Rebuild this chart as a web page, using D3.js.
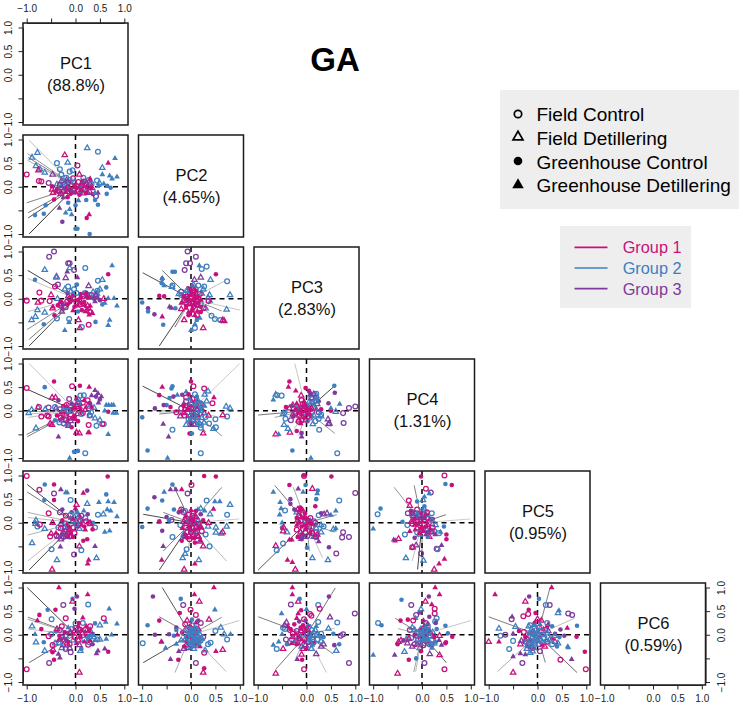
<!DOCTYPE html>
<html><head><meta charset="utf-8">
<script src="https://cdn.jsdelivr.net/npm/d3@7"></script>
<style>html,body{margin:0;padding:0;background:#fff}svg{display:block}text{font-family:"Liberation Sans",Arial,sans-serif}</style>
</head><body><div id="c"></div>
<script>
const pcNames=["PC1","PC2","PC3","PC4","PC5","PC6"];
const pcShare=["(88.8%)","(4.65%)","(2.83%)","(1.31%)","(0.95%)","(0.59%)"];
const tickValues=[-1,-0.5,0,0.5,1];
const tickLabels=["\u22121.0","","0.0","0.5","1.0"];
const shapeLegend=[["o","Field Control"],["t","Field Detillering"],["O","Greenhouse Control"],["T","Greenhouse Detillering"]];
const groupLegend=["Group 1","Group 2","Group 3"];

// points: [group+shape, x, y]  m/b/p group; o/t open, O/T filled
const pc2_pc1=[["bt",-.78,.72],["bt",-.89,.62],["bt",-.81,.44],["bt",-.73,.37],["bt",-.63,.3],["bt",.24,.82],["bt",-.16,.51],["bt",.55,.4],["bo",.46,.74],["bo",-.38,.5],["bo",-.32,.37],["bo",-.12,.32],["bo",-.06,.35],["bo",-.29,.26],["bo",-.19,.19],["bo",.16,.19],["bo",.27,.14],["bo",.44,.13],["bt",.49,.08],["bt",-.38,.05],
["mt",-.22,.67],["mt",-.76,.35],["mt",.08,.26],["mo",-1,.26],["mo",-.75,.12],["mo",-.7,.11],["mo",.04,.45],["mo",-.05,.18],["mo",.17,.11],["mo",-.08,.03],["mt",.3,.07],["mt",-.12,-.04],["mo",.05,-.09],["mo",.2,-.05],["mt",.29,-.1],["mt",-.46,-.13],["mt",-.48,-.06],["mO",-.44,-.27],["mO",-.48,.01],["mO",-.38,-.05],["mT",.67,.5],["mT",.28,-.59],["mO",.23,-.66],["mO",.0,-.12],["mO",.08,-.17],["mT",.14,-.08],["mT",.3,.17],["mO",-.16,-.22],["mO",.36,-.16],
["pO",-.27,-.74],["pt",-.47,.26],["po",-.55,.08],["pt",-.29,.12],["po",-.22,.05],["pt",-.18,.14],["po",.29,.1],["pt",-.36,-.08],["pT",-.33,-.45],["pT",-.25,-.23],["pO",.09,.02],["pO",.14,.11],["pT",.46,-.13],["po",.42,-.2],["pt",.25,-.13],["pO",-.12,-.07],
["bT",.81,.6],["bT",.85,.21],["bT",.7,.23],["bT",.75,.17],["bT",.55,.26],["bT",.58,.06],["bO",.65,.02],["bO",.72,-.02],["bO",.64,-.15],["bT",.48,.03],["bO",-.83,-.6],["bO",-.65,-.57],["bO",-.61,-.39],["bO",.04,-.89],["bO",.0,-.89],["bO",.29,-1],["bO",.4,-.28],["bO",.46,-.38],["bO",0,-.39],["bO",-.15,-.34],["bO",.22,-.28],["bT",-.2,-.55],["bT",-.12,-.48],["bT",-.08,-.59],["bT",.06,-.29],["bT",.4,-.13],["bO",.12,-.12],["bo",.18,-.02],["bt",-.2,.02]];
const core_pc2_pc1=[["bo",-.25,.1],["bt",-.3,-.02],["bo",-.12,.14],["bt",-.02,.1],["po",-.15,.1],["pt",-.25,-.08],["po",-.32,.03],["pT",-.2,-.03],["pO",-.05,-.12],["bt",.1,.03],["po",.22,.06],["pt",.34,-.03],["bo",.33,.06],["mo",-.33,-.1],["mt",-.3,-.15],["mT",-.2,-.12],["mO",-.1,-.15],["mO",.02,-.03],["mT",.1,-.08],["mo",.12,.01],["mt",.2,.02],["mT",.24,-.02],["mO",.32,-.02],["mo",-.15,-.02],["mO",-.02,.03],["mT",-.4,-.1],["mo",.06,.1],["mt",.15,-.14],["mO",.22,-.13]];
const load_pc2_pc1=[[-.95,.98,190],[-.98,.7,150],[-.97,.62,130],[-.98,.56,170],[-1,-.34,130],[-.97,-.55,120],[-.97,-.66,80],[-.95,-1,50]];

const pc3_pc1=[["po",-.54,.89],["po",-.44,1],["po",-.15,.75],["po",-.12,.75],["po",-.03,.61],["po",-.36,.3],["pt",-.39,.47],["pt",-.2,.44],["pT",.04,.45],["pT",-.17,.57],["pO",-.16,.12],["pt",.27,.27],["pT",.45,.03],["pO",.5,-.03],["pT",.4,-.06],["pO",-.27,-.2],["pt",-.28,-.27],["po",-.3,-.15],["pO",.32,.03],
["bo",.2,.65],["bo",.46,.38],["bo",-.15,.26],["bo",-.03,.2],["bo",.2,.12],["bo",.45,.17],["bo",-.38,-.42],["bo",-.13,-.43],["bo",.13,-.6],["bo",.29,.08],["bt",-.63,.61],["bt",-.39,.45],["bt",.55,.4],["bt",-.9,-.45],["bt",-.82,-.38],["bt",-.78,-.24],["bt",-.63,-.29],["bt",-.12,.65],["bt",-.22,.2],["bt",.5,.2],["bt",.15,.08],["bt",.44,.11],["bt",-.37,.0],
["bT",.75,.7],["bT",.85,-.15],["bT",.79,.01],["bT",.67,.01],["bT",.7,-.45],["bT",.67,-.56],["bT",-.22,-.67],["bT",-.13,-.5],["bT",.25,.1],["bT",.6,-.09],["bO",-.83,.4],["bO",-.65,-.54],["bO",.41,-.49],["bO",.63,.24],["bO",.03,.3],["bO",.05,-.27],["bO",.55,-.12],
["mo",-1,-.04],["mo",-.74,.13],["mo",-.7,-.04],["mo",-.53,-.05],["mo",.15,.05],["mo",.33,.08],["mo",.09,-.12],["mo",-.17,-.06],["mo",.27,-.55],["mo",-.42,.26],["mt",-.77,-.08],["mt",-.5,.08],["mt",.09,-.62],["mt",.06,-.45],["mt",-.47,-.2],["mt",-.03,.01],["mt",.58,.0],["mt",.3,-.27],
["mO",.67,.52],["mO",-.43,-.35],["mO",-.36,-.14],["mO",-.05,.09],["mO",-.11,-.07],["mO",.05,-.03],["mO",.12,-.1],["mO",.24,.03],["mO",.1,.1],["mT",-.46,-.17],["mT",.28,-.34],["mT",.35,-.31],["mT",.24,-.22],["mT",-.08,-.03],["mT",.05,-.15],["mT",.19,-.14],["mO",.13,-.24]];
const core_pc3_pc1=[["bt",-.1,.15],["bo",.02,.12],["bt",.36,.14],["bt",.4,.07],["pO",.38,.0],["pt",.42,.08],["pT",-.25,-.12],["po",-.2,-.18],["pt",-.15,.05],["mO",-.02,-.17],["mT",.2,-.27],["mt",.25,-.15],["mo",.02,-.08],["mO",-.17,-.12],["mT",-.05,-.25],["mo",-.12,.0],["mt",.08,-.02],["mO",.18,-.07],["mT",.3,-.15],["mo",.3,-.28],["mO",-.3,-.06],["mt",-.33,-.12],["mT",.12,.03],["mO",.22,.12]];
const load_pc3_pc1=[[-.98,.6,70],[-.98,.43,195],[-.97,-.27,190],[-.99,-.65,140],[-.95,-.86,125],[-.95,-1,70]];

const pc3_pc2=[["po",-.07,1],["po",.1,.89],["po",-.1,.75],["po",-.02,.75],["po",-.13,.61],["pt",.07,.4],["pt",.2,.45],["pt",.03,.2],["pT",-.59,.43],["pT",-.44,-.17],["pT",-.4,-.2],["pO",-.75,-.33],["pO",-.88,-.2],["pO",-.13,.02],["pO",.08,-.12],["pT",.15,.05],["po",-.2,.15],
["bO",-.38,.57],["bO",-.33,.57],["bO",-1,-.08],["bO",-.88,-.27],["bO",-.57,-.55],["bO",-.59,.42],["bO",-.6,.33],["bO",-.32,-.2],["bO",.12,-.45],["bT",.17,.7],["bT",-.55,.28],["bT",0,-.67],["bT",.08,-.54],["bT",.18,-.41],["bT",.4,-.05],["bt",.8,.08],["bt",.73,-.23],["bt",.4,.4],["bt",-.39,.25],["bt",.25,.2],["bt",.35,.02],["bt",-.25,.1],["bt",-.14,-.05],["bt",.3,-.2],["bt",.38,.08],
["bo",.74,.37],["bo",.32,.68],["bo",.22,.63],["bo",.08,-.62],["bo",.49,-.43],["bo",.6,-.45],["bo",.42,-.36],["bo",.27,.26],["bo",.1,.2],["bo",.2,-.1],["bo",-.38,.28],["bo",-.2,.08],["bt",-.12,.12],["bt",.22,.11],
["mO",-.65,.06],["mO",-.55,.05],["mO",.51,.52],["mO",-.06,.22],["mO",.07,.1],["mO",-.1,-.15],["mO",.03,-.25],["mO",.2,-.17],["mO",.12,.03],["mO",-.03,-.04],["mT",-.59,-.38],["mT",-.1,-.2],["mT",.08,-.07],["mT",.2,-.02],["mT",-.02,.07],["mT",.13,-.26],["mT",-.2,-.09],
["mt",-.14,-.45],["mt",.25,-.62],["mt",.65,-.45],["mt",.68,-.47],["mt",.04,.24],["mt",-.02,-.12],["mt",.14,-.03],["mo",.18,.1],["mo",-.08,.04],["mo",.06,-.16],["mo",-.14,-.03],["mo",.36,-.05],["mo",-.02,.13],["mo",.12,-.35],["mo",.26,-.2]];
const core_pc3_pc2=[["bt",.05,.3],["bo",.15,.28],["bt",-.08,.17],["pT",-.05,-.05],["pt",.15,-.15],["mO",-.15,.05],["mT",-.05,-.28],["mo",.0,.03],["mt",.1,.02],["mO",.05,-.03],["mT",.0,-.12],["mo",-.1,-.08],["mt",.12,-.13],["mO",-.05,-.35],["mT",.03,-.2],["mo",.03,-.32],["mO",.2,-.28],["mt",-.2,-.22],["mT",.15,-.08],["mO",.1,.17],["mo",.05,.08],["mt",-.06,.0],["mT",.08,-.35],["mO",.0,.17]];
const load_pc3_pc2=[[-.99,.55,80],[-.59,.6,110],[.7,.38,190],[1,-.24,200],[.63,-.26,150],[.62,-.52,170],[-.65,-1,70],[-.33,-.6,110],[-.28,-.53,190]];

const pc4_pc1=[["mo",-1,.48],["mO",-.44,.62],["bO",-.63,.5],["mt",-.48,.28],["mt",-.41,.28],["mo",-.07,.52],["mO",.09,.53],["mT",.28,.5],["pT",.4,.43],["pT",.46,.37],["pT",.53,.3],["pO",.5,.24],["bT",.67,-.5],["mT",.26,-.46],["pT",-.35,-.55],["bO",.05,-.85],["bO",-.03,-.87],["bo",.2,-.9],["bT",-.12,-1],["mt",.08,-.48],["mt",-.48,-.3],["bt",-.81,-.37],["bt",-.9,.02],["bt",-.77,.07],["bt",-.96,-.05],["bT",.84,-.05],["bT",.77,-.05],["bo",.58,-.28],["bo",.43,-.32],["mT",.28,-.46],
["mo",-.75,.08],["mo",-.58,-.1],["mo",-.7,-.12],["mo",-.55,-.12],["mo",.29,-.1],["mo",.55,-.28],["mo",.27,-.3],["mo",-.1,-.08],["mo",.05,.1],["mo",.15,.17],["mt",-.52,-.27],["mt",.02,-.46],["mt",-.18,.07],["mt",.03,-.07],["mT",-.3,-.05],["mT",.1,.14],["mT",-.05,.06],["mT",.22,.08],["mT",-.27,-.15],["mO",.05,-.22],["mO",-.02,-.12],["mO",.28,.16],["mO",-.38,-.1],["mO",-.08,-.35],["mT",.02,.25],["mO",.67,-.02],
["po",-.55,.07],["po",-.32,.03],["po",-.13,.25],["po",.05,.24],["po",-.24,-.27],["po",-.15,-.3],["pt",-.4,.05],["pt",-.28,-.2],["pt",-.14,-.32],["pT",.33,.32],["pO",.42,.3],["pO",.3,.15],["pO",-.35,.22],["pT",.47,.17],
["bo",-.42,.08],["bo",.1,.32],["bo",.17,.33],["bo",-.33,-.25],["bo",.06,.17],["bo",.27,.04],["bo",.12,-.07],["bt",-.62,.03],["bt",-.1,-.02],["bt",-.17,-.28],["bt",.4,-.16],["bt",.5,-.2],["bt",.3,-.1],["bT",.63,.12],["bT",.68,.12],["bT",.74,.12],["bT",.78,.12],["bT",.6,.0],["bO",-.2,.04],["bO",-.42,-.2],["bO",.13,-.03],["bO",-.03,.12]];
const core_pc4_pc1=[["mO",-.22,-.03],["mT",-.15,-.18],["mo",-.3,-.15],["mt",-.2,-.1],["mO",-.1,.03],["mT",.0,-.18],["mo",.15,-.05],["mt",.2,.02],["mO",.1,.05],["mT",.18,.22],["mo",.25,.22],["mt",.02,.12],["mO",-.25,.1],["po",-.2,-.2],["pt",-.1,-.22],["pO",-.08,.15],["bt",-.25,.02],["bo",-.15,.0],["bt",.38,.06],["bo",.32,-.03],["mT",.33,.08],["mO",-.06,-.15],["mt",-.02,.05],["mo",-.18,.12]];
const load_pc4_pc1=[[-.95,1,200],[-.98,.45,70],[-.98,-.07,195],[-.97,-.14,190],[-.98,-.02,170],[-1,-.5,125],[-.99,-.55,130]];

const pc4_pc2=[["mT",-.59,.5],["bO",-.38,.52],["bO",-.4,.47],["mO",-.65,.33],["pO",-.74,.05],["bO",-1,-.14],["bO",-.89,-.84],["bT",-.48,-1],["pT",-.57,-.28],["pT",-.46,-.55],["bo",-.38,-.4],["bo",.2,-.9],["mt",.25,-.48],["mO",-.03,-.48],["bO",.02,-.48],["mo",.05,.52],["mO",0,.62],["mo",.27,.47],["mT",.47,.28],["mo",.44,.16],["bt",.35,.41],["bt",.28,.34],["bt",.8,.05],["bt",.72,.09],["bo",.74,-.12],["mt",.65,-.09],["bo",.5,-.18],["bo",.51,-.35],["bt",.46,-.38],["bo",.37,-.27],
["bT",-.1,.4],["bT",-.28,.33],["bO",-.44,.27],["bO",-.5,.12],["pO",-.36,.3],["pO",-.18,.34],["pT",-.15,.15],["pO",-.56,.12],["pT",.12,.22],["po",-.1,.2],["po",-.2,.05],["po",.1,-.05],["pt",-.22,-.12],["pt",.07,-.3],
["mo",-.3,-.03],["mo",.1,.12],["mo",.03,.25],["mO",-.42,.08],["mO",-.15,.1],["mO",-.05,.35],["mO",.1,-.1],["mT",.02,.2],["mT",-.08,.02],["mT",.22,.05],["mT",-.02,-.24],["mT",.16,-.1],["mt",-.04,.07],["mt",.27,-.05],["mt",.36,-.1],["mo",-.13,-.1],["mo",.2,.15],["mo",.05,-.2],["mo",-.1,.28],
["bo",.08,.35],["bo",.2,-.3],["bo",.12,-.2],["bo",.2,-.36],["bo",.15,.02],["bo",.3,-.13],["bo",-.05,-.18],["bt",.12,.09],["bt",.05,-.03],["bt",.27,-.25],["bt",.17,-.26],["bt",.14,.22],["bt",-.1,-.3],["bt",.32,.2],["bT",.2,.08],["bT",.04,-.12],["bT",.28,.1],["bO",.12,.3]];
const core_pc4_pc2=[["mO",-.05,.12],["mT",-.02,.02],["mo",-.12,.02],["mt",-.15,-.05],["mO",.03,-.1],["mT",-.07,-.12],["bt",.0,.15],["bo",.05,.06],["bt",.1,-.15],["bT",.08,.1],["bo",.08,-.27],["bt",.22,-.15],["bo",.15,.15],["bt",-.02,-.2],["bO",.18,.18],["bT",-.04,.25],["bt",.2,.0],["mo",.0,.05],["mt",.12,.02],["po",.02,-.05],["pt",.0,-.3],["bo",.12,-.05],["bt",.24,.12],["bo",-.02,-.12]];
const load_pc4_pc2=[[-.99,.52,70],[1,1,205],[-.63,0,165],[-.65,-.07,130],[-.65,-.03,190],[.76,-.18,195],[.63,-.53,140],[.3,-.45,150]];

const pc4_pc3=[["mO",-.35,.62],["mT",-.37,.5],["bO",.57,.53],["pO",.58,.38],["bT",-.68,.23],["bt",-.63,.34],["bo",-.6,.33],["bo",-.51,.32],["po",1,.09],["po",.87,.06],["po",.76,-.26],["po",.75,-.05],["bT",.68,.14],["bo",.63,-.9],["bO",-.29,-.84],["bT",.09,-1],["mt",-.63,-.5],["bT",-.57,-.5],["mt",-.34,-.46],["pT",-.1,-.55],["pO",-.1,-.47],["bo",.26,-.4],["pt",.44,-.18],["pt",.47,-.27],["bt",-.38,-.38],["bt",-.46,-.3],["mT",-.22,.42],["mO",-.02,.48],["mO",.05,.42],["bt",.08,.34],["pO",.08,.37],["bt",.2,.32],["bo",.2,.36],["pO",.45,.16],["pO",.25,.2],
["mt",-.11,.32],["mt",-.28,.12],["mt",-.35,.05],["mo",-.1,.22],["mo",-.22,-.05],["mo",.03,.07],["mO",-.42,.08],["mO",-.27,-.12],["mO",.1,-.12],["mO",.3,.03],["mO",.5,.0],["mO",-.2,-.43],["mT",-.16,.08],["mT",-.05,.2],["mT",-.05,-.15],["mT",.2,.04],["mT",-.2,.15],["mT",-.12,-.27],["mt",-.16,-.2],["mo",-.16,-.23],["mo",.12,-.02],
["po",-.32,-.2],["po",.25,-.03],["po",.12,.18],["pt",.22,.14],["pt",-.28,-.08],["pt",.45,-.28],["pO",-.3,.1],["pT",.04,.04],["bo",-.45,-.03],["bo",-.43,-.17],["bo",.18,-.22],["bo",.07,-.15],["bo",.3,-.08],["bo",.08,.12],["bt",-.48,-.07],["bt",.6,-.02],["bt",.18,.05],["bt",-.02,-.05],["bt",.13,-.28],["bt",.3,-.12],["bt",.0,.1],["bt",.2,.2],["bT",.14,.13],["bT",-.08,.1],["bT",.5,.05],["bO",.02,-.22],["bO",.22,.25],["bO",-.18,.0]];
const core_pc4_pc3=[["bt",-.2,.05],["bo",.12,.25],["bt",.05,.18],["bt",.15,-.1],["bo",.25,-.17],["mO",-.12,.02],["mT",-.1,-.08],["mo",-.05,.1],["mt",-.15,-.1],["mO",.0,-.02],["mT",.05,-.08],["mo",-.1,-.2],["mt",-.07,.0],["mO",-.22,.03],["mT",-.03,.13],["mo",.03,-.12],["mt",.1,.05],["mO",.08,.02],["mT",-.18,-.05],["mo",-.08,.14],["mt",-.02,-.2],["po",.1,.28],["pt",.15,.35],["mO",.0,.06]];
const load_pc4_pc3=[[-.24,1,200],[.58,.53,70],[-.99,-.09,120],[-.65,-.14,160],[.58,-.48,150],[-.16,-.53,175],[-.25,-.38,190]];

const pc5_pc1=[["mo",-1,.99],["mO",.66,.98],["bO",-.63,.81],["mO",-.44,.81],["mo",-.74,.7],["po",-.44,.62],["pT",-.3,.7],["pO",.24,.68],["mT",.16,.63],["bT",-.2,.64],["bT",-.17,.64],["bO",-.64,.48],["mO",-.44,.48],["bO",.63,.6],["bt",.24,.4],["bT",.48,.43],["bT",.67,.45],["bT",.79,.43],["bo",-.1,.48],["mt",.02,.38],["bT",.85,.13],["bT",.65,.28],["bT",.72,.25],["bo",.46,.17],["bt",.57,.18],["bT",.7,-.17],["bT",.6,-.2],["bt",-.89,-.43],["bt",-.38,-.79],["mt",-.48,-.99],["bt",.43,-.75],["mT",.27,-.79],["mT",.25,-.87],["po",-.03,-.67],["mt",.08,-.5],["bo",.12,-.58],["bo",-.49,-.56],["pT",-.31,-.51],["pT",.4,-.5],["mO",.16,-.38],["mO",.24,-.35],["mo",-.55,.2],["mt",-.47,0],["bt",-.63,-.13],["bt",-.82,-.02],["bo",-.78,-.08],["mo",-.73,-.04],["bt",-.81,.05],
["mo",-.52,-.29],["mt",-.5,-.23],["po",-.39,-.27],["po",-.32,.22],["po",-.25,-.3],["po",-.12,-.29],["pt",-.3,-.35],["pt",-.36,-.3],["pO",-.27,.28],["pO",-.08,.22],["pO",.25,.18],["pT",-.1,.1],["bo",-.35,-.1],["bo",-.2,-.02],["bo",-.1,.17],["bo",.1,.03],["bo",.4,-.1],["bO",.03,.22],["bO",.13,.02],["bO",.36,.0],["bT",.3,.02],["bT",.17,.25],["bt",-.2,-.16],["bt",.08,-.13],
["mo",.1,.05],["mo",.28,.0],["mo",-.14,-.22],["mo",-.02,-.22],["mo",-.2,.15],["mt",.02,.02],["mt",-.12,-.12],["mt",-.18,-.26],["mO",-.27,.05],["mO",-.1,-.2],["mO",.18,-.08],["mO",.35,-.14],["mT",-.4,-.22],["mT",.0,.3],["mT",.2,-.15],["mT",-.18,-.04],["mT",.08,.15]];
const core_pc5_pc1=[["mO",-.15,-.1],["mT",-.1,-.22],["mo",-.05,-.1],["mt",-.25,-.2],["bt",-.22,-.1],["bo",-.05,.05],["bt",-.02,.12],["bo",.2,.1],["bt",.05,.1],["mO",.05,-.08],["mT",.12,-.05],["mo",.22,.03],["mt",.3,-.03],["mO",-.05,-.3],["mT",-.15,-.3],["po",-.22,-.18],["pt",-.2,-.3],["pO",-.28,-.25],["po",.12,.15],["mO",.0,-.02],["mT",-.05,.08],["mo",-.3,-.12],["bo",.02,-.03],["pt",-.3,-.02]];
const load_pc5_pc1=[[-.99,.81,70],[-.99,.65,120],[-.98,.22,175],[-.97,.11,190],[-.98,-.26,180],[-.98,-.81,195],[-.95,-1,70]];

const pc5_pc2=[["mO",.27,.99],["mO",.51,.98],["bO",-.38,.81],["mo",.01,.8],["po",-.07,.62],["pO",-.75,.54],["mT",-.19,.7],["bT",-.55,.65],["pT",-.42,.7],["pT",-.31,.7],["bO",-.59,.47],["bO",-.89,.3],["bo",.32,.47],["bT",.49,.45],["bT",.59,.45],["bt",.8,.38],["mT",.46,.29],["bo",.74,.17],["bt",.39,.18],["bO",-1,-.09],["pO",-.59,-.17],["mO",-.65,.03],["bt",.73,-.08],["bt",.51,-.1],["bt",.51,-.21],["bt",.62,-.23],["mt",.65,-.2],["bo",.38,-.5],["mt",.25,-.5],["pT",-.57,-.5],["mT",-.6,-.79],["mt",-.14,-.99],["bt",.16,-.79],["bt",-.17,-.75],["bt",-.12,-.66],["mT",.08,-.87],["mO",-.19,-.38],["bo",-.38,-.3],["bo",-.09,-.56],
["po",-.15,.22],["po",.05,.2],["po",-.4,.06],["pO",-.25,.22],["pO",-.5,.12],["pO",-.15,-.3],["pO",.2,.18],["pT",-.2,.25],["pt",.07,.12],["pt",.15,-.28],["pt",.18,-.4],["bO",-.35,.28],["bO",-.45,.05],["bO",.18,-.05],["bo",-.12,.25],["bo",-.22,-.05],["bo",.12,.05],["bt",.2,.3],["bt",.05,-.18],["bt",.35,-.08],["bT",.14,.28],["bT",.28,.25],["bt",-.15,-.25],["bo",.3,-.25],
["mo",-.2,.28],["mo",.03,.15],["mo",-.1,-.1],["mo",.12,-.28],["mo",-.03,-.35],["mo",.22,-.18],["mt",-.1,-.02],["mt",.05,-.26],["mt",.36,.0],["mO",-.07,.05],["mO",.1,.25],["mO",-.02,-.15],["mO",.15,-.12],["mO",.08,-.42],["mT",.0,.27],["mT",-.18,-.12],["mT",-.02,.0],["mT",.1,-.02],["mT",.2,-.38],["mT",.05,-.33]];
const core_pc5_pc2=[["bt",-.05,.05],["bo",.05,.0],["bt",.15,.05],["po",-.08,-.2],["pt",.1,-.2],["pT",.0,.1],["mO",.05,.05],["mT",-.05,-.08],["mo",.0,-.2],["mt",.1,-.1],["mO",-.12,-.25],["mT",.08,-.15],["mo",.15,-.02],["mt",-.15,.02],["mO",.0,.05],["mT",.03,-.05],["mo",-.03,-.28],["mt",.15,-.3],["mO",-.08,-.32],["mT",.22,-.1],["mo",-.05,.17],["mt",.1,.12],["mO",.25,.05],["mT",-.12,.12]];
const load_pc5_pc2=[[-.36,.79,110],[-.98,.18,75],[.63,.75,140],[.99,.08,205],[.73,-.81,185],[-.65,-1,70],[-.57,-.6,125],[-.57,.22,135],[-.05,-.6,170]];

const pc5_pc3=[["mO",-.05,1],["mO",.51,.98],["mo",-.05,.99],["mO",-.35,.8],["po",1,.63],["bT",-.68,.65],["bO",-.02,.8],["mt",.12,.72],["pT",-.17,.72],["bT",-.07,.65],["bo",.67,.47],["bT",-.54,.43],["bT",-.52,.3],["bT",-.55,.17],["bo",-.44,.26],["po",.75,-.2],["po",.87,-.3],["po",.73,-.31],["pO",.46,-.52],["po",.61,-.65],["bt",.44,-.79],["bt",.12,-.75],["mT",-.39,-.79],["mT",-.29,-.84],["mt",-.23,-.99],["mt",-.63,-.49],["bo",-.48,-.44],["bo",-.61,-.58],["bO",.01,-.53],["bO",.2,.5],["bT",.22,.62],["bO",.23,.68],["pO",-.33,.5],["pO",-.33,.4],["mO",.18,.35],
["bT",-.5,.0],["bO",-.5,-.1],["bT",.6,.25],["bT",.5,.16],["bo",.25,.16],["bo",.35,-.08],["bo",.2,-.2],["bo",-.15,.1],["bt",-.2,.22],["bt",.3,-.2],["bt",.15,-.3],["bt",-.1,-.25],["bt",.0,-.1],["bt",.55,-.14],["bt",-.4,-.2],["bT",.08,.05],["bT",.6,-.12],["bO",-.08,-.27],
["mt",-.18,.28],["mt",-.48,-.18],["mt",-.47,-.1],["mt",-.1,-.3],["mt",.22,-.25],["mo",-.15,.15],["mo",.05,-.08],["mo",-.12,.05],["mo",.2,-.3],["mo",.08,.1],["mO",-.2,.1],["mO",-.03,.2],["mO",.08,-.22],["mO",-.18,-.3],["mO",.18,-.05],["mT",-.35,-.36],["mT",-.3,-.36],["mT",-.1,.12],["mT",-.05,-.05],["mT",.02,.06],["mT",.1,-.15],
["po",.15,.03],["po",.18,.0],["pt",.42,.2],["pt",.36,.18],["pt",.18,-.3],["pO",-.25,.28],["pO",.3,.2],["pO",-.1,-.35],["pT",-.12,-.35],["pT",.25,-.4]];
const core_pc5_pc3=[["bo",.1,-.1],["bt",.2,-.12],["bo",-.02,.05],["bt",.3,-.05],["mO",-.15,.0],["mT",-.15,.25],["mo",-.08,.18],["mt",-.18,.05],["mO",-.1,-.08],["mT",.0,-.05],["mo",-.2,-.15],["mt",-.12,-.2],["mO",-.05,.1],["mT",-.08,.28],["mo",-.02,-.22],["mt",.05,.03],["mO",.1,-.02],["mT",-.2,-.05],["mo",.12,-.22],["mt",-.03,.12],["mO",-.13,.32],["mT",-.02,-.14],["po",.02,-.28],["pt",-.05,-.3]];
const load_pc5_pc3=[[-.99,-1,90],[-.65,.79,120],[-.27,.75,170],[.33,-.74,195],[.06,-.6,150],[.58,-.2,160],[.62,.17,140]];

const pc5_pc4=[["mO",-.02,.98],["mo",.46,1],["bO",.48,.82],["mO",.61,.8],["bT",-1,-.13],["bO",-.85,.3],["bo",-.91,.18],["po",-.02,-.65],["po",.3,-.55],["bo",.32,-.56],["mT",.35,-.87],["mT",.46,-.77],["mt",.25,-.99],["bt",-.33,-.75],["bt",.03,-.8],["pt",-.19,-.52],["pT",.4,-.48],["mO",.5,-.25],["mO",.5,-.35],["mo",-.27,.47],["mt",-.25,.36],["po",-.29,.2],["pt",-.19,.18],["mo",.08,.72],["po",.18,.64],["bT",.15,.62],["bT",.05,.55],["bt",.02,.48],["mT",-.55,-.38],["pT",-.58,-.36],["mt",-.48,-.34],["pt",-.12,-.48],["mo",-.2,-.52],["mt",.15,-.3],["bo",-.35,-.25],
["bO",-.4,.02],["bO",-.1,.45],["bO",.45,-.08],["bo",-.3,-.05],["bo",.2,.2],["bo",.25,-.18],["bo",.35,-.22],["bt",-.17,.05],["bt",.12,.1],["bt",-.05,-.25],["bt",.28,-.05],["bT",.12,.15],["bT",.38,-.2],["bO",.05,-.1],["bO",.12,-.3],["bt",.05,.28],
["mt",-.12,.1],["mt",-.05,-.03],["mt",.12,-.05],["mo",-.1,.28],["mo",.1,.22],["mo",.22,-.1],["mo",-.2,-.02],["mO",-.23,.25],["mO",.05,.1],["mO",-.02,-.12],["mO",.17,.08],["mT",-.25,-.18],["mT",.0,.02],["mT",.08,.18],["mT",.15,-.15],["mT",-.14,-.15],
["po",-.2,.22],["po",.03,.18],["pt",-.18,.14],["pt",.2,-.2],["pO",.22,.08],["pO",-.05,.1],["pT",.08,-.25],["pT",.27,-.25],["pO",-.15,-.32]];
const core_pc5_pc4=[["bt",-.08,.12],["bo",.0,.25],["bt",.1,-.15],["bo",-.1,-.2],["mO",-.08,-.02],["mT",-.15,-.05],["mo",-.03,.05],["mt",-.22,.02],["mO",.08,-.08],["mT",.0,-.1],["mo",.14,.0],["mt",-.1,-.12],["mO",-.05,-.22],["mT",.03,-.18],["mo",.2,-.18],["mt",.05,.05],["mO",-.15,.08],["mT",-.02,.2],["po",-.12,.2],["pt",.0,.12],["pO",.1,-.2],["bt",.2,.05],["bT",-.1,.2],["bO",.05,.35]];
const load_pc5_pc4=[[-.57,.75,150],[-.16,.79,130],[.49,.17,120],[.99,.08,205],[-.2,-.81,195],[-.09,-.99,70],[0,-.95,130]];

const pc6_pc1=[["mT",-.34,1],["mT",.25,.85],["po",-.25,.63],["bO",-.06,.76],["pO",.03,.81],["bo",.26,.64],["mt",-.06,.7],["mO",-.41,.53],["bO",-.57,.53],["mO",-.74,.42],["mT",-.78,.3],["bo",-.49,.33],["bT",.69,.55],["bT",.62,.27],["mo",.58,.35],["bt",.5,.2],["bT",.85,.23],["mO",-.7,.12],["bt",-.89,.18],["bT",-.83,.01],["mo",-1,-.73],["mt",.08,-.8],["po",-.54,-.6],["mO",-.44,-.53],["pT",-.32,-.49],["pT",-.35,-.41],["bt",-.81,-.16],["bt",-.63,-.34],["bO",-.65,-.16],["pT",.46,-.34],["pT",.43,-.4],["pT",.6,-.3],["mO",.67,-.36],["mo",.26,-.21],["bO",.12,-.3],["mt",-.46,-.32],["bT",.74,0],["bT",.63,-.09],
["bo",-.5,.01],["bo",.15,.25],["bo",.0,.24],["bo",-.25,-.1],["bo",.28,-.16],["bo",.45,-.1],["bt",-.42,-.18],["bt",-.28,-.28],["bt",.1,-.34],["bt",.34,.0],["bt",.5,-.1],["bO",.05,.06],["bO",.4,.24],["bO",-.4,.07],["bT",.4,-.12],["bT",-.15,.15],["bT",.3,.12],
["mo",-.55,-.03],["mo",-.47,-.22],["mo",-.2,.35],["mo",.1,.1],["mo",.3,.18],["mo",-.12,-.2],["mt",-.38,.12],["mt",.14,.03],["mt",-.1,.05],["mO",.07,.25],["mO",-.15,-.15],["mO",.22,-.02],["mO",.28,.08],["mO",-.33,-.02],["mT",.15,.36],["mT",.22,.18],["mT",-.35,-.12],["mT",.02,-.18],["mT",.3,-.12],["mO",-.47,-.37],
["po",-.32,.1],["po",-.2,-.3],["po",-.1,-.37],["po",.0,.15],["pt",-.25,-.22],["pt",-.12,-.28],["pO",-.02,.55],["pO",.35,.02],["pO",.35,-.2],["pT",.2,.06]];
const core_pc6_pc1=[["bt",-.2,-.02],["bo",-.08,.12],["bt",-.05,-.12],["bo",.18,-.1],["bt",.38,-.05],["mO",-.22,.05],["mT",.12,.1],["mo",-.02,-.05],["mt",.06,-.12],["mO",-.3,-.1],["mT",.18,-.15],["mo",-.28,.18],["mt",-.18,-.18],["po",-.12,.03],["pt",.08,-.22],["pO",-.2,-.1],["bo",.3,-.03],["bt",-.33,-.18],["mO",.1,-.05],["mT",.06,.18],["mo",.2,.1],["po",-.28,-.05],["mt",-.02,.08],["bO",.25,-.06]];
const load_pc6_pc1=[[-.99,1,70],[-.97,.37,120],[-.98,.33,170],[-.97,.12,190],[-.95,-.59,110]];

const pc6_pc2=[["mT",.47,1],["pO",-.78,.81],["mT",.07,.85],["bO",-.21,.76],["mt",.17,.7],["po",-.16,.63],["mo",-.01,.53],["mO",-.23,.46],["bO",-.89,.2],["bT",.49,.53],["mt",.37,.32],["bo",.5,.08],["bt",.61,.15],["bT",.81,.01],["bt",.68,.01],["bo",.74,-.1],["bo",-.99,-.18],["mO",-.65,.3],["bT",-.52,-.28],["pT",-.42,-.52],["mO",-.26,-.53],["mo",.27,-.38],["po",.1,-.6],["mt",.25,-.8],["mO",.27,-.71],["bT",-.3,-.2],["pT",-.6,-.15],["mt",.65,-.32],["mT",.51,-.35],["bt",.29,-.33],["bo",.35,-.2],["bo",.4,-.17],["mo",.1,.42],["pO",-.45,.01],["pO",-.74,.0],["po",.2,.25],["mT",-.61,-.15],["bO",-.35,-.02],
["mt",-.08,.3],["mt",.05,-.07],["mt",.15,.12],["mo",-.12,.22],["mo",.16,-.1],["mo",-.04,-.12],["mO",-.18,.05],["mO",-.06,-.03],["mO",.06,.14],["mO",.12,-.2],["mO",-.14,-.25],["mT",-.1,-.13],["mT",.1,.25],["mT",.18,-.25],["mT",-.28,.0],["mT",.0,.1],
["po",-.1,.1],["po",.08,.02],["po",.25,-.05],["pt",-.15,-.3],["pt",.05,-.24],["pO",.15,.3],["pO",-.3,.15],["pT",-.25,-.35],
["bo",-.15,.03],["bo",.03,-.22],["bo",.2,-.12],["bo",.02,.2],["bo",.12,-.04],["bt",-.03,.03],["bt",.08,-.1],["bt",.12,.12],["bt",-.12,-.1],["bt",.18,.01],["bt",.06,-.3],["bt",-.2,-.12],["bt",.04,.08],["bT",.13,-.15],["bT",.08,.15],["bT",-.05,-.18],["bT",.1,-.06],["bO",-.3,.1],["bO",.02,.32],["bO",.07,-.03]];
const core_pc6_pc2=[["mO",-.02,.18],["mT",.02,-.12],["mo",.1,.05],["mt",-.1,-.22],["po",.05,-.16],["pt",-.05,-.28],["bt",.0,.0],["bo",.08,.03],["bt",.14,-.02],["bo",.05,-.12],["bt",.1,-.2],["bo",-.06,.12],["bt",-.02,-.08],["bT",.15,.06],["bO",.03,.05],["bt",.02,-.16],["bo",.16,-.16],["bt",.22,-.08],["bo",-.08,-.05],["bT",.0,.13],["bt",.06,.02],["bo",.12,.08],["bt",.1,-.12],["bo",-.02,-.25]];
const load_pc6_pc2=[[-.59,1,90],[-.65,.38,125],[-.98,-.59,80],[-.33,-.8,170],[.72,-.78,185],[.99,.3,195],[.63,.37,140]];

const pc6_pc3=[["mT",-.29,1],["mT",-.29,.85],["mt",-.17,.7],["bO",-.14,.76],["po",-.32,.64],["pO",.46,.81],["bo",.24,.63],["mo",.27,.55],["po",.99,.45],["pt",.48,.37],["bT",-.51,.45],["bo",.63,.26],["mt",-.63,-.82],["po",.87,-.6],["mo",-.05,-.73],["mt",-.1,-.42],["mO",-.09,-.53],["pT",-.19,-.52],["pt",.2,-.41],["pt",.3,-.25],["bt",.61,-.34],["pO",.57,-.22],["bO",.67,-.2],["po",.75,.01],["po",.7,-.02],["bT",-.68,-.22],["bo",-.61,-.3],["mt",-.48,-.3],["bo",-.48,.15],["bo",-.44,.12],["pt",-.41,.26],["mT",-.17,.45],["mO",-.11,.52],["mo",.07,.44],["bT",0,.54],["bo",.24,.27],["pT",-.38,-.2],["bt",.45,.13],
["bT",-.5,.01],["bT",-.57,-.15],["bO",-.4,-.2],["bo",-.3,-.1],["bo",.1,.1],["bo",.22,-.1],["bo",.3,.02],["bo",.05,-.23],["bt",.15,.05],["bt",.25,-.02],["bt",.02,-.12],["bt",.1,-.3],["bt",-.1,-.25],["bT",-.05,.15],["bT",.2,.18],["bO",.55,.02],["bO",.35,-.05],
["mt",-.28,-.05],["mt",-.18,-.18],["mt",.03,.1],["mt",-.07,-.3],["mo",-.05,.33],["mo",.1,.4],["mo",-.34,.1],["mo",-.12,.05],["mO",-.33,.12],["mO",-.25,.22],["mO",-.17,-.05],["mO",-.07,.2],["mO",.02,-.05],["mT",-.38,.18],["mT",-.3,-.18],["mT",-.2,.35],["mT",.03,.2],["mT",-.1,-.1],["mO",.15,-.18],
["po",-.42,-.1],["po",-.2,.08],["po",.13,-.1],["pt",-.45,.2],["pt",.35,-.2],["pO",-.02,.3],["pO",-.15,.28],["pT",-.25,-.15],["pT",.05,-.02]];
const core_pc6_pc3=[["bo",.0,.05],["bt",.08,-.03],["bo",.15,-.15],["bt",.18,.1],["bo",.05,.17],["bt",.3,-.14],["bo",-.08,.0],["bt",-.2,-.12],["mO",-.12,.15],["mT",-.22,.02],["mo",-.28,.02],["mt",-.15,-.08],["mO",-.02,.12],["mT",-.05,-.15],["mo",.02,.03],["mt",-.1,.08],["po",.03,-.16],["pt",-.02,-.22],["bt",.12,.0],["bo",.22,.0],["bO",.06,-.1],["bT",.12,-.22],["mO",-.2,-.2],["mT",.0,-.3]];
const load_pc6_pc3=[[.59,.99,120],[-.99,.38,125],[-.63,-.73,120],[.41,-.8,195],[.55,-.41,130],[.58,.14,190],[-.22,-.5,170]];

const pc6_pc4=[["bO",-.42,.74],["mT",.27,1],["mT",.36,.85],["pO",.14,.81],["mt",.07,.7],["po",-.22,.63],["mo",.26,.55],["mT",.2,.64],["bO",.48,.19],["bO",-.83,.2],["bo",-.9,.25],["bT",-1,-.43],["pT",-.56,-.43],["mO",-.27,-.53],["po",.05,-.6],["mo",.46,-.73],["mt",-.5,-.82],["mO",.62,-.04],["bO",.53,.03],["mO",.49,-.16],["mO",-.29,.32],["mO",-.44,.3],["po",-.12,.42],["pO",-.05,.47],["bt",-.02,.54],["bt",-.36,-.36],["mt",.36,-.43],["pt",.16,-.41],["bO",-.12,-.5],["pT",.4,-.22],["mO",-.5,-.2],["mt",-.48,-.15],["mt",-.43,-.12],["bt",-.32,-.1],["bo",.3,.35],["bo",.27,.28],["mo",.26,.45],["mO",.48,-.18],
["bo",-.22,-.07],["bo",.05,-.18],["bo",.2,-.12],["bo",-.1,.05],["bo",.12,.1],["bt",-.2,.15],["bt",-.1,-.12],["bt",.02,.0],["bt",.1,-.08],["bt",-.05,-.28],["bt",.22,.05],["bT",-.13,.35],["bT",.05,.2],["bT",.2,-.28],["bT",.28,-.15],["bO",.15,-.22],["bO",.3,.12],
["mt",-.27,-.08],["mt",.18,.03],["mt",.36,-.02],["mo",-.18,.3],["mo",.02,.12],["mo",.1,.02],["mO",-.15,.0],["mO",.05,-.1],["mO",.12,.22],["mO",-.02,-.35],["mO",.25,-.05],["mT",.15,.1],["mT",-.05,.1],["mT",.1,-.15],["mT",.03,.3],
["po",-.25,.1],["po",-.15,-.2],["po",.08,.25],["po",.2,-.2],["pt",-.3,-.18],["pt",-.2,-.25],["pt",.05,.14],["pO",-.38,-.12],["pO",.28,.25],["pO",.15,.38],["pT",-.02,-.2],["pT",.35,-.12]];
const core_pc6_pc4=[["mO",-.05,-.05],["mT",.1,.05],["mo",.03,-.22],["mt",-.1,-.2],["po",.08,.05],["pt",-.12,-.03],["bt",-.02,.12],["bo",.0,-.05],["bt",.15,-.03],["bo",.08,-.02],["bt",.05,.1],["bo",-.08,-.1],["bt",.18,-.2],["bT",.0,.05],["bO",.1,-.12],["bt",-.15,.1],["bo",.12,.18],["bt",.25,-.18],["bo",-.05,-.18],["bT",.05,-.1],["bt",.02,-.12],["bo",.08,.1],["bt",-.03,.02],["bo",.15,.05]];
const load_pc6_pc4=[[-.55,.35,130],[1,.3,200],[.5,-.59,100],[-.17,-.79,165],[-.13,-.78,185],[-.49,.13,170]];

const pc6_pc5=[["mT",.29,1],["mT",-.87,.85],["pO",-.17,.81],["bO",.03,.76],["mt",-.25,.7],["bo",.17,.63],["po",.25,.63],["mO",-.18,.53],["mo",-.19,.44],["mo",-.29,.39],["mO",-.04,.46],["bT",.44,.51],["bt",.42,.46],["po",.63,.45],["po",.71,.42],["bO",.81,.19],["pO",.47,.11],["mT",.61,.14],["pT",-.52,.38],["po",-.53,.33],["bt",-.79,.13],["bo",-.76,-.02],["mt",-1,-.15],["mT",-.79,-.15],["bo",-.5,-.13],["bo",-.58,-.3],["pT",-.5,-.46],["po",-.31,-.6],["mt",-.5,-.8],["mo",.47,-.53],["pT",.7,-.52],["mO",.97,-.36],["mo",.99,-.73],["mO",.8,-.04],["bT",.63,-.27],["pO",.55,-.02],["mt",.36,-.15],["po",-.66,0],["bt",-.45,.17],["pT",-.5,.02],["mO",-.38,.08],["mt",.08,.3],["mt",0,.33],
["mo",-.28,.06],["mo",.03,.15],["mo",.2,-.15],["mo",-.1,-.28],["mt",-.2,-.1],["mt",-.35,-.2],["mO",.05,-.05],["mO",-.06,.25],["mO",.2,.18],["mO",.3,-.08],["mT",-.1,.08],["mT",.22,.22],["mT",-.2,-.25],["mT",.1,-.22],
["po",.16,.1],["po",-.25,-.15],["po",.05,-.35],["pt",-.33,-.13],["pt",.22,.08],["pT",-.35,-.4],["pT",-.25,-.42],["pO",.36,.02],["pO",.08,.02],["pO",-.12,-.12],
["bo",-.12,.05],["bo",.2,.25],["bo",-.15,.2],["bo",.12,-.07],["bo",.3,-.2],["bt",-.22,-.3],["bt",-.1,-.35],["bt",-.18,.18],["bt",.2,.03],["bt",.35,-.02],["bt",-.04,-.1],["bt",-.15,-.38],["bt",.42,-.18],["bt",.25,-.1],["bt",.02,.02],["bT",.62,-.25],["bT",-.05,.2],["bT",.05,.22],["bT",.15,-.02],["bT",-.08,-.02],["bO",.3,.18],["bO",.4,-.25],["bO",.45,-.05],["bO",-.05,.0],["bt",-.08,.05],["bt",-.03,-.03]];
const core_pc6_pc5=[["mO",-.25,-.05],["mT",.12,.12],["mo",-.18,-.2],["po",.02,-.2],["pt",-.12,-.25],["mt",.15,-.25],["bt",-.15,-.12],["bo",-.02,.1],["bt",.1,-.15],["bo",-.1,-.05],["bt",-.05,-.2],["bo",.08,.08],["bt",.0,-.1],["bT",-.12,-.18],["bO",-.18,.02],["bt",.18,-.12],["bo",.05,-.12],["bt",-.08,-.28],["bo",-.22,-.15],["bT",.0,.1],["bt",-.12,.12],["bo",-.04,-.15],["bt",-.2,-.22],["bo",.0,-.02]];
const load_pc6_pc5=[[-1,.38,125],[.25,.97,125],[.76,.35,190],[.81,-.8,105],[.16,-.59,130],[-.82,-.78,175],[-.27,.1,150]];

const panels=[[1,0,pc2_pc1,core_pc2_pc1,load_pc2_pc1],[2,0,pc3_pc1,core_pc3_pc1,load_pc3_pc1],[2,1,pc3_pc2,core_pc3_pc2,load_pc3_pc2],[3,0,pc4_pc1,core_pc4_pc1,load_pc4_pc1],[3,1,pc4_pc2,core_pc4_pc2,load_pc4_pc2],[3,2,pc4_pc3,core_pc4_pc3,load_pc4_pc3],[4,0,pc5_pc1,core_pc5_pc1,load_pc5_pc1],[4,1,pc5_pc2,core_pc5_pc2,load_pc5_pc2],[4,2,pc5_pc3,core_pc5_pc3,load_pc5_pc3],[4,3,pc5_pc4,core_pc5_pc4,load_pc5_pc4],[5,0,pc6_pc1,core_pc6_pc1,load_pc6_pc1],[5,1,pc6_pc2,core_pc6_pc2,load_pc6_pc2],[5,2,pc6_pc3,core_pc6_pc3,load_pc6_pc3],[5,3,pc6_pc4,core_pc6_pc4,load_pc6_pc4],[5,4,pc6_pc5,core_pc6_pc5,load_pc6_pc5]];

const groupColor={m:"#c8107c",b:"#3f7fbf",p:"#7e3a9c"};
const W=743,H=707,colStep=115.5,rowStep=112,pw=105,ph=102,originX=23,originY=23;
const svg=d3.select("#c").append("svg").attr("width",W).attr("height",H);
const x=d3.scaleLinear().domain([-1,1]).range([3.7,101.3]);
const y=d3.scaleLinear().domain([-1,1]).range([99,4.5]);
const tri=d3.symbol().type(d3.symbolTriangle);
// sizes: r open circle, r filled circle, side open triangle, side filled triangle, stroke
function marker(sel,shape,color,s){
  const open=shape==="o"||shape==="t";
  const isCircle=shape==="o"||shape==="O";
  const side=open?s.to:s.tf;
  const m=isCircle?sel.append("circle").attr("r",open?s.co:s.cf):sel.append("path").attr("d",tri.size(side*side*Math.sqrt(3)/4)());
  m.attr("fill",open?"none":color).attr("stroke",open?color:"none").attr("stroke-width",open?s.sw:0);
  return m;
}
const markSize={co:2.4,cf:2.3,to:5.4,tf:5.8,sw:1.25};
const legendSize={co:3.7,cf:4.3,to:10,tf:11.5,sw:1.7};
const panel=(r,c)=>svg.append("g").attr("transform",`translate(${originX+c*colStep},${originY+r*rowStep})`);
const frame=g=>g.append("rect").attr("width",pw).attr("height",ph).attr("fill","none").attr("stroke","#1a1a1a").attr("stroke-width",1.5);

panels.forEach(([r,c,pts,core,loads])=>{
  const g=panel(r,c);
  g.selectAll("line.l").data(loads).join("line").attr("x1",x(0)).attr("y1",y(0)).attr("x2",d=>x(d[0])).attr("y2",d=>y(d[1])).attr("stroke",d=>d3.rgb(d[2],d[2],d[2])).attr("stroke-width",1);
  g.append("line").attr("x1",0).attr("x2",pw).attr("y1",y(0)).attr("y2",y(0)).attr("stroke","#000").attr("stroke-width",1.5).attr("stroke-dasharray","5 4");
  g.append("line").attr("x1",x(0)).attr("x2",x(0)).attr("y1",0).attr("y2",ph).attr("stroke","#000").attr("stroke-width",1.5).attr("stroke-dasharray","5 4");
  pts.concat(core).forEach(d=>{
    const gp=g.append("g").attr("transform",`translate(${x(d[1])},${y(d[2])})`);
    marker(gp,d[0][1],groupColor[d[0][0]],markSize);
  });
  frame(g);
});

// diagonal labels
pcNames.forEach((n,i)=>{
  const g=panel(i,i); frame(g);
  const t=g.append("text").attr("text-anchor","middle").attr("font-size",16.5).attr("fill","#111");
  t.append("tspan").attr("x",pw/2+.5).attr("y",45.5).text(n);
  t.append("tspan").attr("x",pw/2+.5).attr("y",67.5).text(pcShare[i]);
});

// axes
const fmt=d=>tickLabels[tickValues.indexOf(d)];
function styleAxis(a){a.selectAll("path").attr("stroke","#222").attr("stroke-width",1);a.selectAll("line").attr("stroke","#222").attr("stroke-width",1);a.selectAll("text").attr("font-size",10).attr("font-family",'"Liberation Sans",Arial,sans-serif').attr("fill","#222");}
function rotate(a,dx){a.selectAll("text").attr("transform","rotate(-90)").attr("text-anchor","middle").attr("x",0).attr("y",dx).attr("dy",0);}
// top
const at=panel(0,0).append("g").call(d3.axisTop(x).tickValues(tickValues).tickFormat(fmt).tickSize(4.5).tickSizeOuter(0));styleAxis(at);at.selectAll("text").attr("y",-11);
// left on col 1
for(let r=0;r<6;r++){const a=panel(r,0).append("g").call(d3.axisLeft(y).tickValues(tickValues).tickFormat(fmt).tickSize(4.5).tickSizeOuter(0));styleAxis(a);rotate(a,-11);}
// bottom on row 6
for(let c=0;c<6;c++){const a=panel(5,c).append("g").attr("transform",`translate(0,${ph})`).call(d3.axisBottom(x).tickValues(tickValues).tickFormat(fmt).tickSize(4.5).tickSizeOuter(0));styleAxis(a);a.selectAll("text").attr("y",10).attr("dy","0.71em");}
// right on last
const ar=panel(5,5).append("g").attr("transform",`translate(${pw},0)`).call(d3.axisRight(y).tickValues(tickValues).tickFormat(fmt).tickSize(4.5).tickSizeOuter(0));styleAxis(ar);
ar.selectAll("text").attr("transform","rotate(-90)").attr("text-anchor","middle").attr("x",0).attr("y",19).attr("dy",0);

// title
svg.append("text").attr("x",335).attr("y",71).attr("text-anchor","middle").attr("font-size",33).attr("font-weight","bold").attr("fill","#000").text("GA");

// shape legend
const shapeY=[114,137,161,185],shapeBase=[120.5,144.5,168.5,192];
svg.append("rect").attr("x",500).attr("y",90).attr("width",239).attr("height",119).attr("fill","#eeeeee");
shapeLegend.forEach(([s,label],i)=>{
  const gp=svg.append("g").attr("transform",`translate(518,${shapeY[i]})`);
  marker(gp,s,"#000",legendSize);
  svg.append("text").attr("x",536.5).attr("y",shapeBase[i]).attr("font-size",19).attr("fill","#000").text(label);
});
// group legend
const gy=[247.3,268,288.7],gb=[253.3,274,295],gc=["m","b","p"];
svg.append("rect").attr("x",560).attr("y",226).attr("width",131).attr("height",82).attr("fill","#eeeeee");
groupLegend.forEach((t,i)=>{
  svg.append("line").attr("x1",574.5).attr("x2",607.5).attr("y1",gy[i]).attr("y2",gy[i]).attr("stroke",groupColor[gc[i]]).attr("stroke-width",1.7);
  svg.append("text").attr("x",622.7).attr("y",gb[i]).attr("font-size",16.3).attr("fill",groupColor[gc[i]]).text(t);
});
</script></body></html>
